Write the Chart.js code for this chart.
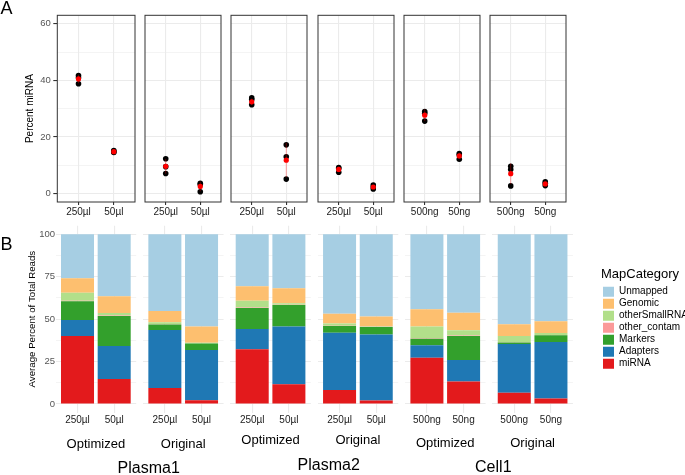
<!DOCTYPE html>
<html>
<head>
<meta charset="utf-8">
<script src="https://cdn.jsdelivr.net/npm/chart.js"></script>
<style>
  body { margin: 0; background: #fff; }
  #lienzo { position: relative; width: 685px; height: 475px; overflow: hidden; font-family: "Liberation Sans", Arial, sans-serif; }
  #lienzo canvas { position: absolute; }
  .etiqueta { position: absolute; white-space: nowrap; line-height: 1; transform: translate(-50%, -50%); color: #000; }
</style>
</head>
<body>
<div id="lienzo"></div>
<script>
// ---- datos ----
const sizeLabels = [['250µl', '50µl'], ['250µl', '50µl'], ['250µl', '50µl'], ['250µl', '50µl'], ['500ng', '50ng'], ['500ng', '50ng']];
const protocols = ['Optimized', 'Original', 'Optimized', 'Original', 'Optimized', 'Original'];
const sampleGroups = ['Plasma1', 'Plasma2', 'Cell1'];

// Percent miRNA, replicas por panel: [tamaño 1, tamaño 2]
const replicates = [
  [[41.7, 40.9, 38.8], [15.2, 14.8, 14.5]],
  [[12.3, 9.5, 7.1], [3.6, 3.2, 0.6]],
  [[33.8, 33.2, 31.4], [17.2, 13.0, 5.1]],
  [[9.2, 8.8, 7.5], [3.0, 2.3, 1.6]],
  [[29.0, 28.4, 25.6], [14.1, 13.6, 12.1]],
  [[9.6, 8.5, 2.7], [4.1, 3.6, 2.8]]
];
const meanMiRNA = [[40.5, 14.8], [9.6, 2.5], [32.4, 11.8], [8.5, 2.3], [27.7, 13.3], [7.0, 3.4]];
const errLow = [[39.0, 14.5], [7.0, 0.8], [31.2, 5.7], [7.5, 1.6], [25.6, 12.2], [3.3, 2.8]];
const errHigh = [[42.0, 15.1], [12.2, 4.2], [33.6, 17.9], [9.5, 3.0], [29.8, 14.4], [10.7, 4.0]];
const topYTicks = [0, 20, 40, 60];
const topYMinor = [10, 30, 50];

// Average Percent of Total Reads, 12 barras (2 por panel)
const miRNA         = [40.1, 14.7, 9.4, 2.2, 32.2, 11.6, 8.3, 2.0, 27.3, 13.2, 6.7, 3.3];
const adapters      = [9.4, 19.5, 34.2, 29.6, 12.0, 34.0, 33.7, 38.9, 7.3, 12.7, 28.7, 33.2];
const markers       = [11.0, 17.7, 3.2, 3.8, 12.4, 12.7, 4.0, 4.5, 3.9, 14.2, 0.9, 4.0];
const otherContam   = [0.3, 0.2, 0.2, 0.1, 0.3, 0.2, 0.1, 0.1, 0.3, 0.2, 0.1, 0.1];
const otherSmallRNA = [4.8, 1.5, 1.1, 0.4, 4.0, 0.8, 1.4, 0.3, 6.8, 3.1, 3.7, 1.2];
const genomic       = [8.5, 9.9, 6.7, 9.5, 8.5, 8.9, 5.7, 5.7, 10.2, 10.4, 6.9, 6.9];
const unmapped      = [25.9, 36.5, 45.2, 54.4, 30.6, 31.8, 46.8, 48.5, 44.2, 46.2, 53.0, 51.3];
const mapCategories = ['miRNA', 'Adapters', 'Markers', 'other_contam', 'otherSmallRNA', 'Genomic', 'Unmapped'];
const mapSeries = [miRNA, adapters, markers, otherContam, otherSmallRNA, genomic, unmapped];
const mapColors = ['#E31A1C', '#1F78B4', '#33A02C', '#FB9A99', '#B2DF8A', '#FDBF6F', '#A6CEE3'];
const botYTicks = [0, 25, 50, 75, 100];
const botYMinor = [12.5, 37.5, 62.5, 87.5];

// ---- geometría ----
const TOP = { top: 15.3, bottom: 202, left0: 57.3, step: 86.3, width: 79, xAxisH: 17 };
const BOT = { top: 225.8, bottom: 412.5, left0: 55.5, step: 87.35, width: 80.7, xAxisH: 40 };
const groupLift = [0, 3.3, 1];
const GRID = '#ebebeb';

Chart.defaults.font.family = '"Liberation Sans", Arial, sans-serif';
Chart.defaults.color = '#000';

const lienzo = document.getElementById('lienzo');

function makeCanvas(left, top, width, height) {
  const c = document.createElement('canvas');
  c.width = width;
  c.height = height;
  c.style.left = left + 'px';
  c.style.top = top + 'px';
  c.style.width = width + 'px';
  c.style.height = height + 'px';
  lienzo.appendChild(c);
  return c;
}

function addText(text, x, y, size) {
  const d = document.createElement('div');
  d.className = 'etiqueta';
  d.textContent = text;
  d.style.left = x + 'px';
  d.style.top = y + 'px';
  d.style.fontSize = size + 'px';
  lienzo.appendChild(d);
}

function panelBox(i, g) {
  const L = g.left0 + g.step * i;
  const canvasLeft = i === 0 ? 0 : Math.floor(L - 2);
  const canvasTop = Math.floor(g.top - 8);
  const width = Math.ceil(L + g.width + 2) - canvasLeft;
  const height = Math.ceil(g.bottom + g.xAxisH + 1) - canvasTop;
  const c = makeCanvas(canvasLeft, canvasTop, width, height);
  return {
    canvas: c,
    yWidth: i === 0 ? L : 0,
    padding: {
      left: i === 0 ? 0 : L - canvasLeft,
      right: width - (L - canvasLeft) - g.width,
      top: g.top - canvasTop,
      bottom: height - (g.bottom - canvasTop) - g.xAxisH
    }
  };
}

const panelBorder = {
  id: 'panelBorder',
  afterDraw(chart) {
    const { ctx, chartArea: a } = chart;
    ctx.save();
    ctx.strokeStyle = '#333';
    ctx.lineWidth = 1;
    ctx.strokeRect(a.left, a.top, a.right - a.left, a.bottom - a.top);
    ctx.restore();
  }
};

function xAxis(labels, tickOpts, gridOpts, afterFitH) {
  return {
    type: 'linear', min: 0.4, max: 2.6, offset: false,
    afterBuildTicks: s => { s.ticks = [1, 2].map(v => ({ value: v })); },
    afterFit: s => { s.height = afterFitH; },
    ticks: Object.assign({ callback: v => labels[v - 1], font: { size: 10 }, color: '#222', maxRotation: 0, autoSkip: false }, tickOpts),
    grid: Object.assign({ color: GRID, lineWidth: 1.1, offset: false }, gridOpts),
    border: { display: false }
  };
}

// ---- A: puntos ----
function drawTopPanel(i) {
  const box = panelBox(i, TOP);
  const black = [];
  replicates[i].forEach((vals, k) => vals.forEach(v => black.push({ x: k + 1, y: v })));
  const datasets = [
    { type: 'scatter', data: meanMiRNA[i].map((v, k) => ({ x: k + 1, y: v })), backgroundColor: '#ff0000', pointRadius: 2.6, borderWidth: 0 },
    ...[0, 1].map(k => ({
      type: 'line',
      data: [{ x: k + 1, y: errLow[i][k] }, { x: k + 1, y: errHigh[i][k] }],
      borderColor: 'rgba(255,0,0,0.35)', borderWidth: 1, pointRadius: 0
    })),
    { type: 'scatter', data: black, backgroundColor: '#000', pointRadius: 2.8, borderWidth: 0 }
  ];
  const isMajor = c => topYTicks.includes(c.tick.value);
  new Chart(box.canvas, {
    type: 'scatter',
    data: { datasets },
    plugins: [panelBorder],
    options: {
      responsive: false, animation: false, events: [],
      layout: { padding: box.padding },
      plugins: { legend: { display: false }, tooltip: { enabled: false } },
      scales: {
        x: xAxis(sizeLabels[i], { padding: 1.1 }, { tickColor: '#333', tickLength: 3 }, TOP.xAxisH),
        y: {
          min: -3, max: 63,
          afterBuildTicks: s => { s.ticks = topYTicks.concat(topYMinor).sort((a, b) => a - b).map(v => ({ value: v })); },
          afterFit: s => { s.width = box.yWidth; },
          ticks: { display: i === 0, callback: v => topYTicks.includes(v) ? v : '', font: { size: 9.5 }, color: '#555', padding: 2.5, autoSkip: false },
          grid: { color: GRID, lineWidth: c => isMajor(c) ? 1.1 : 0.55, drawTicks: i === 0, tickLength: 4, tickColor: c => isMajor(c) ? '#333' : 'rgba(0,0,0,0)' },
          border: { display: false },
          title: { display: i === 0, text: 'Percent miRNA', font: { size: 10 }, color: '#000', padding: { top: 24.7, bottom: 0 } }
        }
      }
    }
  });
}

// ---- B: barras apiladas ----
function drawBottomPanel(i) {
  const box = panelBox(i, BOT);
  const datasets = mapCategories.map((name, c) => ({
    label: name,
    data: [0, 1].map(k => ({ x: k + 1, y: mapSeries[c][2 * i + k] })),
    backgroundColor: mapColors[c],
    borderWidth: 0,
    barPercentage: 0.9,
    categoryPercentage: 1
  }));
  const isMajor = c => botYTicks.includes(c.tick.value);
  const x = xAxis(sizeLabels[i], { padding: 1.8 }, { drawTicks: false }, BOT.xAxisH);
  x.stacked = true;
  x.title = { display: true, text: protocols[i], font: { size: 13 }, color: '#000', padding: { top: 0, bottom: 0.7 + groupLift[Math.floor(i / 2)] } };
  new Chart(box.canvas, {
    type: 'bar',
    data: { datasets },
    options: {
      responsive: false, animation: false, events: [],
      layout: { padding: box.padding },
      plugins: { legend: { display: false }, tooltip: { enabled: false } },
      scales: {
        x,
        y: {
          stacked: true, min: -5, max: 105,
          afterBuildTicks: s => { s.ticks = botYTicks.concat(botYMinor).sort((a, b) => a - b).map(v => ({ value: v })); },
          afterFit: s => { s.width = box.yWidth; },
          ticks: { display: i === 0, callback: v => botYTicks.includes(v) ? v : '', font: { size: 9.5 }, color: '#555', padding: 0.5, autoSkip: false },
          grid: { color: GRID, lineWidth: c => isMajor(c) ? 1.1 : 0.55, drawTicks: false },
          border: { display: false },
          title: { display: i === 0, text: 'Average Percent of Total Reads', font: { size: 9.7 }, color: '#000', padding: { top: 26.5, bottom: 0 } }
        }
      }
    }
  });
}

// leyenda sola en su propio canvas
function drawLegend() {
  const c = makeCanvas(601, 267, 84, 260);
  new Chart(c, {
    type: 'bar',
    data: {
      labels: [],
      datasets: mapCategories.map((name, k) => ({ label: name, data: [], backgroundColor: mapColors[k], borderWidth: 0 }))
    },
    options: {
      responsive: false, animation: false, events: [],
      layout: { padding: { left: 0, top: 0.8 } },
      scales: { x: { display: false }, y: { display: false } },
      plugins: {
        tooltip: { enabled: false },
        legend: {
          position: 'top', align: 'start', reverse: true,
          title: { display: true, text: 'MapCategory', font: { size: 13 }, color: '#000', position: 'start', padding: { top: 0, bottom: 1.3 } },
          labels: { boxWidth: 11, boxHeight: 10, padding: 2, font: { size: 10 }, color: '#000' }
        }
      }
    }
  });
}

for (let i = 0; i < 6; i++) {
  drawTopPanel(i);
  drawBottomPanel(i);
}
drawLegend();

addText('A', 6.5, 7.5, 18);
addText('B', 6.5, 244, 18);
[148.7, 328.7, 493.3].forEach((x, g) => addText(sampleGroups[g], x, 467.5 - groupLift[g] * 0.8, 16));
</script>
</body>
</html>
